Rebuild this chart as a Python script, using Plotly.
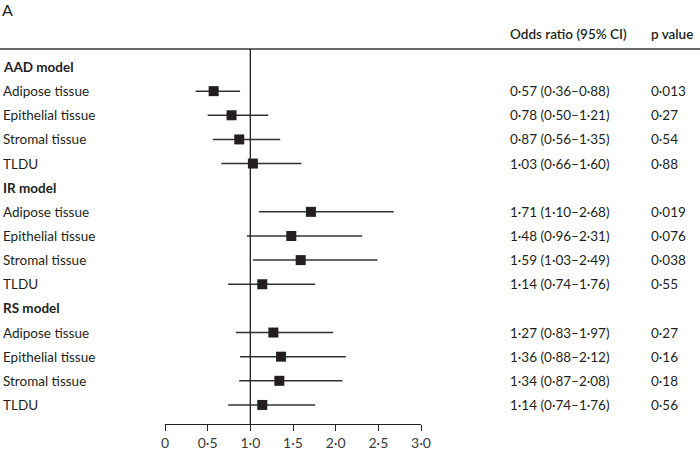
import plotly.graph_objects as go

labels = ["AAD model", "Adipose tissue", "Epithelial tissue", "Stromal tissue", "TLDU",
          "IR model", "Adipose tissue", "Epithelial tissue", "Stromal tissue", "TLDU",
          "RS model", "Adipose tissue", "Epithelial tissue", "Stromal tissue", "TLDU"]
is_header = [True, False, False, False, False, True, False, False, False, False,
             True, False, False, False, False]
odds = [None, 0.57, 0.78, 0.87, 1.03, None, 1.71, 1.48, 1.59, 1.14, None, 1.27, 1.36, 1.34, 1.14]
lower = [None, 0.36, 0.50, 0.56, 0.66, None, 1.10, 0.96, 1.03, 0.74, None, 0.83, 0.88, 0.87, 0.74]
upper = [None, 0.88, 1.21, 1.35, 1.60, None, 2.68, 2.31, 2.49, 1.76, None, 1.97, 2.12, 2.08, 1.76]
pvals = [None, "0·013", "0·27", "0·54", "0·88", None, "0·019", "0·076", "0·038", "0·55",
         None, "0·27", "0·16", "0·18", "0·56"]
tick_vals = [0, 0.5, 1.0, 1.5, 2.0, 2.5, 3.0]
tick_text = ["0", "0·5", "1·0", "1·5", "2·0", "2·5", "3·0"]

FONT = "Lato"
TXT = "#231f20"
FS = 13.5

def fmt(v):
    return f"{v:.2f}".replace(".", "·")

rows = list(range(len(labels)))
xs, ys, ep, em = [], [], [], []
for i in rows:
    if odds[i] is not None:
        xs.append(odds[i]); ys.append(i)
        ep.append(upper[i] - odds[i]); em.append(odds[i] - lower[i])

fig = go.Figure()
fig.add_trace(go.Scatter(
    x=xs, y=ys, mode="markers",
    marker=dict(symbol="square", size=10, color="#231f20"),
    error_x=dict(type="data", symmetric=False, array=ep, arrayminus=em,
                 width=0, thickness=1.5, color="#333333"),
    showlegend=False, hoverinfo="skip"))

L, R, T, B = 165, 279, 49, 26
W, H = 700, 450
pw = W - L - R
ph = H - T - B

def px2paperx(px):
    return (px - L) / pw

def px2papery(py):
    return 1 - (py - T) / ph

ann = []
for i in rows:
    ann.append(dict(x=px2paperx(2), xref="paper", y=i, yref="y", xanchor="left", yanchor="middle",
                    text=labels[i], showarrow=False, borderpad=0,
                    font=dict(family=FONT, size=FS, color=TXT, weight=700 if is_header[i] else 400)))
    if odds[i] is not None:
        ann.append(dict(x=px2paperx(509), xref="paper", y=i, yref="y", xanchor="left", yanchor="middle",
                        text=f"{fmt(odds[i])} ({fmt(lower[i])}–{fmt(upper[i])})", showarrow=False,
                        borderpad=0, font=dict(family=FONT, size=FS, color=TXT)))
        ann.append(dict(x=px2paperx(650), xref="paper", y=i, yref="y", xanchor="left", yanchor="middle",
                        text=pvals[i], showarrow=False,
                        borderpad=0, font=dict(family=FONT, size=FS, color=TXT)))

ann.append(dict(x=px2paperx(509), xref="paper", y=px2papery(34), yref="paper", xanchor="left",
                yanchor="middle", text="Odds ratio (95% CI)", showarrow=False,
                borderpad=0, font=dict(family=FONT, size=FS, color=TXT, weight=600)))
ann.append(dict(x=px2paperx(650), xref="paper", y=px2papery(34), yref="paper", xanchor="left",
                yanchor="middle", text="p value", showarrow=False,
                borderpad=0, font=dict(family=FONT, size=FS, color=TXT, weight=600)))
ann.append(dict(x=px2paperx(1), xref="paper", y=px2papery(10), yref="paper", xanchor="left",
                yanchor="middle", text="A", showarrow=False,
                borderpad=0, font=dict(family=FONT, size=16, color=TXT)))

shapes = [
    dict(type="line", xref="paper", yref="paper", x0=px2paperx(0), x1=px2paperx(700), y0=1, y1=1,
         line=dict(color="#3a3a3a", width=1.5)),
    dict(type="line", xref="x", yref="paper", x0=1, x1=1, y0=0, y1=1,
         line=dict(color="#231f20", width=1.3)),
]

row_px = 24.14
first = 67
fig.update_layout(
    width=W, height=H, margin=dict(l=L, r=R, t=T, b=B, autoexpand=False),
    paper_bgcolor="white", plot_bgcolor="white",
    xaxis=dict(range=[0, 3], tickvals=tick_vals, ticktext=tick_text, showline=True,
               linecolor="#231f20", linewidth=1.3, ticks="outside", ticklen=6, tickwidth=1.3,
               tickcolor="#231f20", showgrid=False, zeroline=False, automargin=False,
               tickfont=dict(family=FONT, size=14, color="#3a3a3a")),
    yaxis=dict(range=[(H - B - first) / row_px, (T - first) / row_px], visible=False,
               showgrid=False, zeroline=False, automargin=False),
    annotations=ann, shapes=shapes, showlegend=False,
)

fig.write_html("out.html")
